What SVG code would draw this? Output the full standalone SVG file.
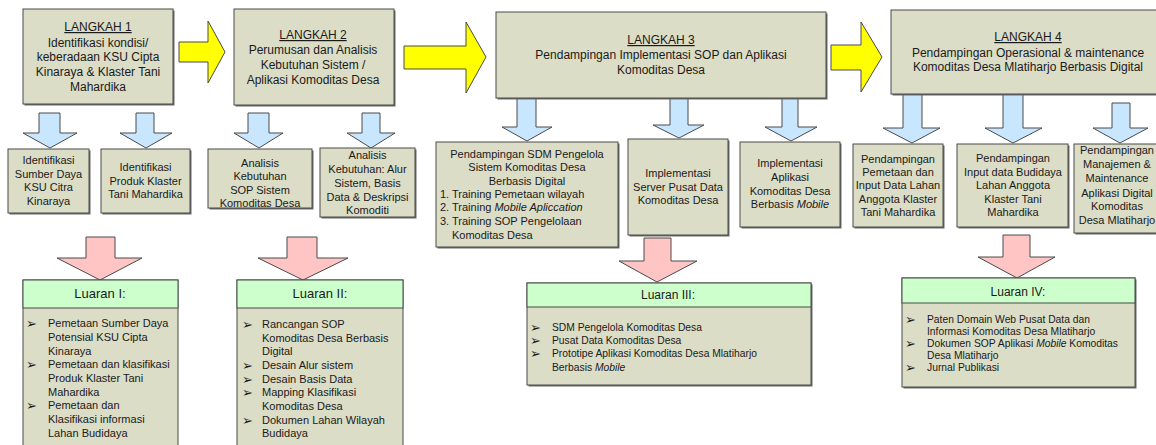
<svg xmlns="http://www.w3.org/2000/svg" width="1156" height="445" viewBox="0 0 1156 445">
<style>
.box{fill:#dcddc6;stroke:#4a4a4a;stroke-width:1}
.sh{fill:#6a6a6a}
.hdr{fill:#ccffcc;stroke:#4a4a4a;stroke-width:1}
.blue{fill:#c9e6ff;stroke:#4a4a4a;stroke-width:1}
.pink{fill:#ffc4c4;stroke:#4a4a4a;stroke-width:1}
.yel{fill:#ffff00;stroke:#4a4a4a;stroke-width:1}
text{font-family:"Liberation Sans",Arial,sans-serif;fill:#1a1a1a}
.t12{font-size:12px;text-anchor:middle}
.t13{font-size:13px;text-anchor:middle}
.t11{font-size:11px;text-anchor:middle}
.l11{font-size:11px}
.l10{font-size:10.3px}
.bul{font-family:"DejaVu Sans",sans-serif;font-size:13px}
.u{text-decoration:underline}
</style>
<g id="connectors">
<polygon class="yel" points="179,42 208,42 208,21 225,52 208,83 208,62 179,62"/>
<polygon class="yel" points="404,46 466,46 466,22 486,57 466,93 466,69 404,69"/>
<polygon class="yel" points="831,45 861,45 861,22 882,57 861,92 861,70 831,70"/>
<polygon class="blue" points="39,113 60,113 60,133 77,133 50,148 23,133 39,133"/>
<polygon class="blue" points="136,113 154,113 154,133 172,133 146,148 120,133 136,133"/>
<polygon class="blue" points="248,113 269,113 269,133 283,133 259,148 234,133 248,133"/>
<polygon class="blue" points="362,113 380,113 380,133 395,133 371,148 347,133 362,133"/>
<polygon class="blue" points="517,98 536,98 536,127 552,127 527,141 502,127 517,127"/>
<polygon class="blue" points="670,98 688,98 688,125 704,125 679,138 653,125 670,125"/>
<polygon class="blue" points="782,98 798,98 798,127 817,127 791,141 765,127 782,127"/>
<polygon class="blue" points="903,94 922,94 922,128 940,128 912,143 883,128 903,128"/>
<polygon class="blue" points="1003,94 1023,94 1023,128 1042,128 1013,143 985,128 1003,128"/>
<polygon class="blue" points="1112,103 1130,103 1130,128 1148,128 1120,143 1093,128 1112,128"/>
<polygon class="pink" points="86,237 115,237 115,258 142,258 100,280 57,258 86,258"/>
<polygon class="pink" points="287,237 317,237 317,258 348,258 303,280 258,258 287,258"/>
<polygon class="pink" points="644,238 671,238 671,261 697,261 657,282 619,261 644,261"/>
<polygon class="pink" points="1003,235 1030,235 1030,257 1055,257 1017,278 978,257 1003,257"/>
</g>
<g id="langkah1">
<rect class="sh" x="24.5" y="10.5" width="150" height="95"/>
<rect class="box" x="23" y="9" width="150" height="95"/>
<text class="t12 u" x="98" y="31">LANGKAH 1</text>
<text class="t12" x="98" y="47">Identifikasi kondisi/</text>
<text class="t12" x="98" y="61">keberadaan KSU Cipta</text>
<text class="t12" x="98" y="76">Kinaraya &amp; Klaster Tani</text>
<text class="t12" x="98" y="91">Mahardika</text>
</g>
<g id="langkah2">
<rect class="sh" x="235.5" y="10.5" width="160" height="96"/>
<rect class="box" x="234" y="9" width="160" height="96"/>
<text class="t12 u" x="313" y="39">LANGKAH 2</text>
<text class="t12" x="313" y="54">Perumusan dan Analisis</text>
<text class="t12" x="313" y="69">Kebutuhan Sistem /</text>
<text class="t12" x="313" y="84">Aplikasi Komoditas Desa</text>
</g>
<g id="langkah3">
<rect class="sh" x="497.5" y="13.5" width="330" height="86"/>
<rect class="box" x="496" y="12" width="330" height="86"/>
<text class="t12 u" x="661" y="44">LANGKAH 3</text>
<text class="t12" x="661" y="59">Pendampingan Implementasi SOP dan Aplikasi</text>
<text class="t12" x="661" y="74">Komoditas Desa</text>
</g>
<g id="langkah4">
<rect class="sh" x="892.5" y="11.5" width="280" height="84"/>
<rect class="box" x="891" y="10" width="280" height="84"/>
<text class="t12 u" x="1028" y="41">LANGKAH 4</text>
<text class="t12" x="1028" y="57">Pendampingan Operasional &amp; maintenance</text>
<text class="t12" x="1028" y="71">Komoditas Desa Mlatiharjo Berbasis Digital</text>
</g>
<g id="s1">
<rect class="sh" x="9.5" y="150.5" width="81" height="64"/>
<rect class="box" x="8" y="149" width="81" height="64"/>
<text class="t11" x="48.5" y="164">Identifikasi</text>
<text class="t11" x="48.5" y="178">Sumber Daya</text>
<text class="t11" x="48.5" y="191">KSU Citra</text>
<text class="t11" x="48.5" y="205">Kinaraya</text>
</g>
<g id="s2">
<rect class="sh" x="102.5" y="150.5" width="89" height="64"/>
<rect class="box" x="101" y="149" width="89" height="64"/>
<text class="t11" x="145.5" y="171">Identifikasi</text>
<text class="t11" x="145.5" y="185">Produk Klaster</text>
<text class="t11" x="145.5" y="198">Tani Mahardika</text>
</g>
<g id="s3">
<rect class="sh" x="209.5" y="150.5" width="104" height="59"/>
<rect class="box" x="208" y="149" width="104" height="59"/>
<text class="t11" x="260" y="167">Analisis</text>
<text class="t11" x="260" y="180">Kebutuhan</text>
<text class="t11" x="260" y="194">SOP Sistem</text>
<text class="t11" x="260" y="207">Komoditas Desa</text>
</g>
<g id="s4">
<rect class="sh" x="321.5" y="149.5" width="95" height="69"/>
<rect class="box" x="320" y="148" width="95" height="69"/>
<text class="t11" x="367.5" y="159">Analisis</text>
<text class="t11" x="367.5" y="173">Kebutuhan: Alur</text>
<text class="t11" x="367.5" y="187">Sistem, Basis</text>
<text class="t11" x="367.5" y="201">Data &amp; Deskripsi</text>
<text class="t11" x="367.5" y="214">Komoditi</text>
</g>
<g id="s5">
<rect class="sh" x="437.5" y="143.5" width="182" height="105"/>
<rect class="box" x="436" y="142" width="182" height="105"/>
<text class="t11" x="527" y="158">Pendampingan SDM Pengelola</text>
<text class="t11" x="527" y="171">Sistem Komoditas Desa</text>
<text class="t11" x="527" y="185">Berbasis Digital</text>
<text class="l11" x="440" y="198">1. Training Pemetaan wilayah</text>
<text class="l11" x="440" y="211">2. Training <tspan font-style="italic">Mobile Apliccation</tspan></text>
<text class="l11" x="440" y="225">3. Training SOP Pengelolaan</text>
<text class="l11" x="452" y="239">Komoditas Desa</text>
</g>
<g id="s6">
<rect class="sh" x="629.5" y="140.5" width="100" height="96"/>
<rect class="box" x="628" y="139" width="100" height="96"/>
<text class="t11" x="678" y="177">Implementasi</text>
<text class="t11" x="678" y="191">Server Pusat Data</text>
<text class="t11" x="678" y="204">Komoditas Desa</text>
</g>
<g id="s7">
<rect class="sh" x="741.5" y="143.5" width="100" height="85"/>
<rect class="box" x="740" y="142" width="100" height="85"/>
<text class="t11" x="790" y="167">Implementasi</text>
<text class="t11" x="790" y="181">Aplikasi</text>
<text class="t11" x="790" y="195">Komoditas Desa</text>
<text class="t11" x="790" y="208">Berbasis <tspan font-style="italic">Mobile</tspan></text>
</g>
<g id="s8">
<rect class="sh" x="854.5" y="145.5" width="90" height="83"/>
<rect class="box" x="853" y="144" width="90" height="83"/>
<text class="t11" x="898" y="163">Pendampingan</text>
<text class="t11" x="898" y="176">Pemetaan dan</text>
<text class="t11" x="898" y="189">Input Data Lahan</text>
<text class="t11" x="898" y="203">Anggota Klaster</text>
<text class="t11" x="898" y="216">Tani Mahardika</text>
</g>
<g id="s9">
<rect class="sh" x="958.5" y="145.5" width="111" height="83"/>
<rect class="box" x="957" y="144" width="111" height="83"/>
<text class="t11" x="1013" y="162">Pendampingan</text>
<text class="t11" x="1013" y="176">Input data Budidaya</text>
<text class="t11" x="1013" y="189">Lahan Anggota</text>
<text class="t11" x="1013" y="203">Klaster Tani</text>
<text class="t11" x="1013" y="216">Mahardika</text>
</g>
<g id="s10">
<rect class="sh" x="1075.5" y="145.5" width="90" height="89"/>
<rect class="box" x="1074" y="144" width="90" height="89"/>
<text class="t11" x="1117" y="154">Pendampingan</text>
<text class="t11" x="1117" y="168">Manajemen &amp;</text>
<text class="t11" x="1117" y="182">Maintenance</text>
<text class="t11" x="1117" y="197">Aplikasi Digital</text>
<text class="t11" x="1117" y="210">Komoditas</text>
<text class="t11" x="1117" y="224">Desa Mlatiharjo</text>
</g>
<g id="luaran1">
<rect class="box" x="23" y="280" width="155" height="175"/>
<rect class="hdr" x="23" y="280" width="155" height="28"/>
<text class="t13" x="100" y="298">Luaran I:</text>
<text class="bul" x="26" y="328">➢</text>
<text class="l11" x="48" y="327">Pemetaan Sumber Daya</text>
<text class="l11" x="48" y="341">Potensial KSU Cipta</text>
<text class="l11" x="48" y="355">Kinaraya</text>
<text class="bul" x="26" y="369">➢</text>
<text class="l11" x="48" y="368">Pemetaan dan klasifikasi</text>
<text class="l11" x="48" y="382">Produk Klaster Tani</text>
<text class="l11" x="48" y="396">Mahardika</text>
<text class="bul" x="26" y="410">➢</text>
<text class="l11" x="48" y="409">Pemetaan dan</text>
<text class="l11" x="48" y="423">Klasifikasi informasi</text>
<text class="l11" x="48" y="437">Lahan Budidaya</text>
</g>
<g id="luaran2">
<rect class="box" x="237" y="280" width="166" height="175"/>
<rect class="hdr" x="237" y="280" width="166" height="28"/>
<text class="t13" x="320" y="298">Luaran II:</text>
<text class="bul" x="242" y="329">➢</text>
<text class="l11" x="262" y="328">Rancangan SOP</text>
<text class="l11" x="262" y="342">Komoditas Desa Berbasis</text>
<text class="l11" x="262" y="355">Digital</text>
<text class="bul" x="242" y="370">➢</text>
<text class="l11" x="262" y="369">Desain Alur sistem</text>
<text class="bul" x="242" y="384">➢</text>
<text class="l11" x="262" y="383">Desain Basis Data</text>
<text class="bul" x="242" y="397">➢</text>
<text class="l11" x="262" y="396">Mapping Klasifikasi</text>
<text class="l11" x="262" y="410">Komoditas Desa</text>
<text class="bul" x="242" y="425">➢</text>
<text class="l11" x="262" y="424">Dokumen Lahan Wilayah</text>
<text class="l11" x="262" y="437">Budidaya</text>
</g>
<g id="luaran3">
<rect class="sh" x="528.5" y="284.5" width="284" height="102"/>
<rect class="box" x="527" y="283" width="284" height="102"/>
<rect class="hdr" x="527" y="283" width="284" height="24"/>
<text class="t12" x="668" y="299">Luaran III:</text>
<text class="bul" x="530" y="332">➢</text>
<text class="l10" x="552" y="331">SDM Pengelola Komoditas Desa</text>
<text class="bul" x="530" y="345">➢</text>
<text class="l10" x="552" y="344">Pusat Data Komoditas Desa</text>
<text class="bul" x="530" y="358">➢</text>
<text class="l10" x="552" y="357">Prototipe Aplikasi Komoditas Desa Mlatiharjo</text>
<text class="l10" x="552" y="371">Berbasis <tspan font-style="italic">Mobile</tspan></text>
</g>
<g id="luaran4">
<rect class="sh" x="903.5" y="279.5" width="233" height="109"/>
<rect class="box" x="902" y="278" width="233" height="109"/>
<rect class="hdr" x="902" y="278" width="233" height="25"/>
<text class="t12" x="1018" y="296">Luaran IV:</text>
<text class="bul" x="905" y="324">➢</text>
<text class="l10" x="927" y="323">Paten Domain Web Pusat Data dan</text>
<text class="l10" x="927" y="335">Informasi Komoditas Desa Mlatiharjo</text>
<text class="bul" x="905" y="348">➢</text>
<text class="l10" x="927" y="347">Dokumen SOP Aplikasi <tspan font-style="italic">Mobile</tspan> Komoditas</text>
<text class="l10" x="927" y="359">Desa Mlatiharjo</text>
<text class="bul" x="905" y="372">➢</text>
<text class="l10" x="927" y="371">Jurnal Publikasi</text>
</g>
</svg>
